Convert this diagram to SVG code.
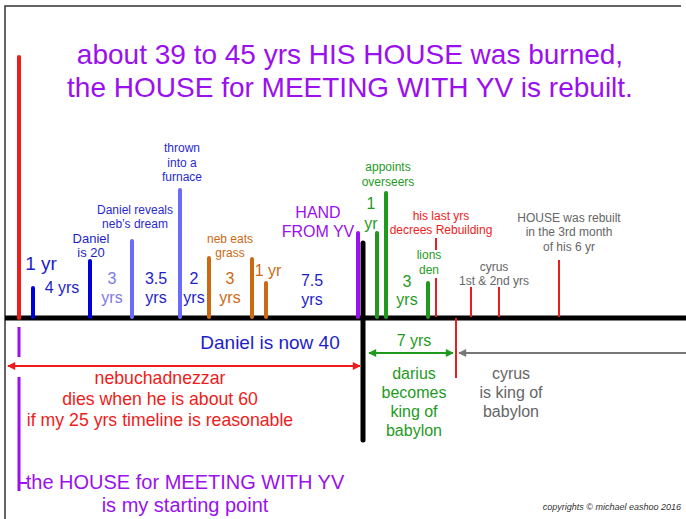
<svg xmlns="http://www.w3.org/2000/svg" width="686" height="519" viewBox="0 0 686 519">
<defs>
<style>
text{font-family:"Liberation Sans",Arial,sans-serif;text-anchor:middle}
.bar{stroke-linecap:round;stroke-width:4;fill:none}
.dk{fill:#1e1ec8}.lb{fill:#7a7ae6}.bl{fill:#2a2ad0}.or{fill:#cc6a14}.gr{fill:#1f9a1f}.rd{fill:#ee1c1c}.gy{fill:#666}.pu{fill:#9a10ee}
.s12{font-size:12px}.s16{font-size:16px}
</style>
<marker id="arR" viewBox="0 0 10 10" refX="9" refY="5" markerWidth="5" markerHeight="4" orient="auto-start-reverse"><path d="M0,0L10,5L0,10z" fill="#ee1c1c"/></marker>
<marker id="arG" viewBox="0 0 10 10" refX="9" refY="5" markerWidth="5" markerHeight="4" orient="auto-start-reverse"><path d="M0,0L10,5L0,10z" fill="#1f9a1f"/></marker>
<marker id="arY" viewBox="0 0 10 10" refX="9" refY="5" markerWidth="5" markerHeight="4" orient="auto-start-reverse"><path d="M0,0L10,5L0,10z" fill="#777"/></marker>
</defs>
<rect width="686" height="519" fill="#fff"/>
<path d="M5,519V6H681" fill="none" stroke="#333" stroke-width="1.5"/>
<g id="title" class="pu">
<text x="350" y="64" style="font-size:28px">about 39 to 45 yrs HIS HOUSE was burned,</text>
<text x="350" y="97" style="font-size:28px">the HOUSE for MEETING WITH YV is rebuilt.</text>
</g>
<g id="connectors">
<line x1="5" y1="318" x2="686" y2="318" stroke="#000" stroke-width="5"/>
<line x1="19" y1="57" x2="19" y2="318" stroke="#ee1c1c" stroke-width="4" stroke-linecap="round"/>
<line x1="19" y1="327" x2="19" y2="357" stroke="#9a10ee" stroke-width="3"/>
<line x1="19" y1="377" x2="19" y2="491" stroke="#9a10ee" stroke-width="3"/>
<line x1="19" y1="483" x2="27" y2="483" stroke="#9a10ee" stroke-width="2"/>
<line x1="8" y1="366" x2="360" y2="366" stroke="#ee1c1c" stroke-width="2" marker-start="url(#arR)" marker-end="url(#arR)"/>
<line x1="363" y1="243" x2="363" y2="440" stroke="#000" stroke-width="5" stroke-linecap="round"/>
<line x1="456" y1="318" x2="456" y2="378" stroke="#ee1c1c" stroke-width="2"/>
<line x1="369" y1="353" x2="453" y2="353" stroke="#1f9a1f" stroke-width="2" marker-start="url(#arG)" marker-end="url(#arG)"/>
<line x1="686" y1="353" x2="459" y2="353" stroke="#777" stroke-width="2" marker-end="url(#arY)"/>
</g>
<g id="bars">
<line class="bar" x1="33" y1="288" x2="33" y2="317" stroke="#0000dd"/>
<line class="bar" x1="90" y1="261" x2="90" y2="317" stroke="#0000dd"/>
<line class="bar" x1="132" y1="241" x2="132" y2="317" stroke="#6a6aff"/>
<line class="bar" x1="180" y1="190" x2="180" y2="317" stroke="#6a6aff"/>
<line class="bar" x1="209" y1="258" x2="209" y2="317" stroke="#cc6a14"/>
<line class="bar" x1="252" y1="259" x2="252" y2="317" stroke="#cc6a14"/>
<line class="bar" x1="266" y1="283" x2="266" y2="317" stroke="#cc6a14"/>
<line class="bar" x1="358" y1="233" x2="358" y2="317" stroke="#9a10ee"/>
<line class="bar" x1="377" y1="233" x2="377" y2="317" stroke="#1f9a1f"/>
<line class="bar" x1="386" y1="193" x2="386" y2="317" stroke="#1f9a1f"/>
<line class="bar" x1="428" y1="283" x2="428" y2="317" stroke="#1f9a1f"/>
<line x1="436" y1="238" x2="436" y2="250" stroke="#ee1c1c" stroke-width="2"/>
<line x1="436" y1="278" x2="436" y2="317" stroke="#ee1c1c" stroke-width="2"/>
<line x1="471" y1="287" x2="471" y2="317" stroke="#ee1c1c" stroke-width="2"/>
<line x1="499" y1="287" x2="499" y2="317" stroke="#ee1c1c" stroke-width="2"/>
<line x1="559" y1="260" x2="559" y2="317" stroke="#ee1c1c" stroke-width="2"/>
</g>
<g id="n-1yr" class="dk"><text x="41" y="270" style="font-size:19px">1 yr</text></g>
<g id="n-4yrs" class="dk"><text x="62" y="293" class="s16">4 yrs</text></g>
<g id="n-daniel20" class="dk"><text x="91" y="243" style="font-size:13px">Daniel</text><text x="91" y="257" style="font-size:13px">is 20</text></g>
<g id="n-3yrs-a" class="lb"><text x="112" y="284" class="s16">3</text><text x="112" y="303" class="s16">yrs</text></g>
<g id="n-reveals" class="bl"><text x="135" y="214" style="font-size:12px">Daniel reveals</text><text x="135" y="228" style="font-size:12px">neb’s dream</text></g>
<g id="n-35yrs" class="dk"><text x="156" y="284" class="s16">3.5</text><text x="156" y="303" class="s16">yrs</text></g>
<g id="n-furnace" class="bl"><text x="182" y="152" class="s12">thrown</text><text x="182" y="167" class="s12">into a</text><text x="182" y="181" class="s12">furnace</text></g>
<g id="n-2yrs" class="dk"><text x="194" y="284" class="s16">2</text><text x="194" y="303" class="s16">yrs</text></g>
<g id="n-grass" class="or"><text x="230" y="243" class="s12">neb eats</text><text x="230" y="257" class="s12">grass</text></g>
<g id="n-3yrs-b" class="or"><text x="230" y="284" class="s16">3</text><text x="230" y="303" class="s16">yrs</text></g>
<g id="n-1yr-b" class="or"><text x="268" y="276" class="s16">1 yr</text></g>
<g id="n-75yrs" class="dk"><text x="312" y="286" class="s16">7.5</text><text x="312" y="305" class="s16">yrs</text></g>
<g id="n-hand" class="pu"><text x="318" y="218" class="s16">HAND</text><text x="318" y="237" class="s16">FROM YV</text></g>
<g id="n-overseers" class="gr"><text x="388" y="171" class="s12">appoints</text><text x="388" y="186" class="s12">overseers</text></g>
<g id="n-1yr-c" class="gr"><text x="371" y="209" class="s16">1</text><text x="371" y="229" class="s16">yr</text></g>
<g id="n-decrees" class="rd"><text x="441" y="220" class="s12">his last yrs</text><text x="441" y="234" class="s12">decrees Rebuilding</text></g>
<g id="n-lions" class="gr"><text x="429" y="259" class="s12">lions</text><text x="429" y="274" class="s12">den</text></g>
<g id="n-3yrs-c" class="gr"><text x="407" y="287" class="s16">3</text><text x="407" y="305" class="s16">yrs</text></g>
<g id="n-cyrus12" class="gy"><text x="494" y="271" class="s12">cyrus</text><text x="494" y="285" class="s12">1st &amp; 2nd yrs</text></g>
<g id="n-rebuilt" class="gy"><text x="569" y="222" class="s12">HOUSE was rebuilt</text><text x="569" y="236" class="s12">in the 3rd month</text><text x="569" y="251" class="s12">of his 6 yr</text></g>
<g id="n-now40" class="dk"><text x="270" y="349" style="font-size:19px">Daniel is now 40</text></g>
<g id="n-neb" class="rd"><text x="160" y="384" style="font-size:17.7px">nebuchadnezzar</text><text x="160" y="405" style="font-size:17.7px">dies when he is about 60</text><text x="160" y="426" style="font-size:17.7px">if my 25 yrs timeline is reasonable</text></g>
<g id="n-start" class="pu"><text x="185" y="489" style="font-size:20px">the HOUSE for MEETING WITH YV</text><text x="185" y="512" style="font-size:20px">is my starting point</text></g>
<g id="n-7yrs" class="gr"><text x="414" y="346" class="s16">7 yrs</text></g>
<g id="n-darius" class="gr"><text x="414" y="379" class="s16">darius</text><text x="414" y="398" class="s16">becomes</text><text x="414" y="417" class="s16">king of</text><text x="414" y="436" class="s16">babylon</text></g>
<g id="n-cyrus" class="gy"><text x="511" y="379" class="s16">cyrus</text><text x="511" y="398" class="s16">is king of</text><text x="511" y="417" class="s16">babylon</text></g>
<g id="copy"><text x="681" y="510" style="font-size:9px;font-style:italic;fill:#333;text-anchor:end">copyrights ©  michael eashoo 2016</text></g>
</svg>
